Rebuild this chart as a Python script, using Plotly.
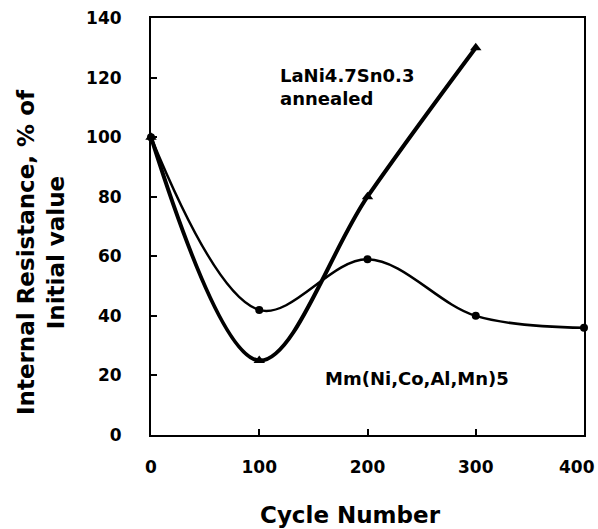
import plotly.graph_objects as go

# Data
cycles_lani = [0, 100, 200, 300]
resist_lani = [100, 25, 80, 130]
cycles_mm = [0, 100, 200, 300, 400]
resist_mm = [100, 42, 59, 40, 36]

x_ticks = [0, 100, 200, 300, 400]
x_ticktext = ["0", "100", "200", "300", ""]   # last label drawn separately, nudged inward
last_x_label = "400"
y_ticks = [0, 20, 40, 60, 80, 100, 120, 140]

label_lani = "LaNi4.7Sn0.3<br>annealed"
label_mm = "Mm(Ni,Co,Al,Mn)5"
x_title = "Cycle Number"
y_title = "Internal Resistance, % of<br>Initial value"

FONT = "DejaVu Sans"

fig = go.Figure()
fig.add_trace(go.Scatter(
    x=cycles_lani, y=resist_lani, mode="lines+markers",
    line=dict(color="black", width=4, shape="spline", smoothing=1),
    marker=dict(symbol="triangle-up", size=10, color="black"),
    cliponaxis=False, showlegend=False))
fig.add_trace(go.Scatter(
    x=cycles_mm, y=resist_mm, mode="lines+markers",
    line=dict(color="black", width=2.5, shape="spline", smoothing=1),
    marker=dict(symbol="circle", size=8, color="black"),
    cliponaxis=False, showlegend=False))

tick_font = dict(family=FONT, size=17, color="black", weight="bold")
axis_common = dict(
    showline=True, mirror=True, linecolor="black", linewidth=2,
    showgrid=False, zeroline=False, ticks="inside", ticklen=6,
    tickwidth=1.5, tickcolor="black", automargin=False,
    tickfont=tick_font,
)

fig.update_layout(
    width=598, height=529,
    margin=dict(l=151, r=14, t=18, b=94),
    paper_bgcolor="white", plot_bgcolor="white",
    xaxis=dict(range=[0, 400], tickvals=x_ticks, ticktext=x_ticktext,
               ticklabelstandoff=16, **axis_common),
    yaxis=dict(range=[0, 140], tickvals=y_ticks, ticklabelstandoff=24, **axis_common),
)

fig.add_annotation(
    x=x_ticks[-1], y=(435 - 467) / 417, xref="x", yref="paper", text=last_x_label,
    showarrow=False, xanchor="center", yanchor="middle", xshift=-7,
    font=tick_font)
fig.add_annotation(
    x=117.3, y=116.8, xref="x", yref="y", text=label_lani,
    showarrow=False, xanchor="left", yanchor="middle", align="left",
    font=dict(family=FONT, size=18, color="black", weight="bold"))
fig.add_annotation(
    x=245.7, y=19.1, xref="x", yref="y", text=label_mm,
    showarrow=False, xanchor="center", yanchor="middle",
    font=dict(family=FONT, size=18, color="black", weight="bold"))
fig.add_annotation(
    x=(350 - 151) / 433, y=(435 - 515) / 417, xref="paper", yref="paper",
    text=x_title, showarrow=False, xanchor="center", yanchor="middle",
    font=dict(family=FONT, size=23, color="black", weight="bold"))
fig.add_annotation(
    x=(41 - 151) / 433, y=(435 - 252) / 417, xref="paper", yref="paper",
    text=y_title, showarrow=False, xanchor="center", yanchor="middle",
    textangle=-90, align="center",
    font=dict(family=FONT, size=23, color="black", weight="bold"))

fig.write_html("out.html")
